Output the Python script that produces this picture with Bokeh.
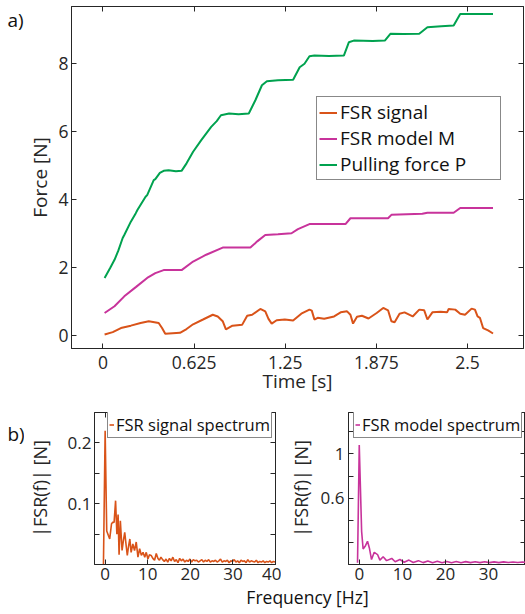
from bokeh.plotting import figure
from bokeh.models import (Range1d, LinearAxis, FixedTicker, Legend, LegendItem, Label,
                          CustomLabelingPolicy)
from bokeh.layouts import column, row
from bokeh.embed import file_html
from bokeh.resources import INLINE

FONT = "Open Sans"
AX = "#262626"
C_SIG = "#D95319"
C_MOD = "#C8339B"
C_PULL = "#00A24F"

# ---------------- data: panel a) ----------------
t_pull = [0.011, 0.05, 0.079, 0.105, 0.135, 0.146, 0.191, 0.225, 0.236, 0.292, 0.303, 0.348,
          0.359, 0.39, 0.416, 0.45, 0.50, 0.539, 0.573, 0.618, 0.674, 0.742, 0.78, 0.809,
          0.865, 0.93, 1.0, 1.045, 1.09, 1.124, 1.20, 1.304, 1.349, 1.382, 1.416, 1.45,
          1.55, 1.652, 1.686, 1.72, 1.85, 1.933, 1.971, 2.06, 2.169, 2.225, 2.32, 2.405,
          2.45, 2.55, 2.675]
f_pull = [1.70, 2.0, 2.23, 2.5, 2.87, 2.96, 3.35, 3.6, 3.69, 4.08, 4.13, 4.57,
          4.6, 4.78, 4.84, 4.86, 4.83, 4.84, 5.06, 5.40, 5.74, 6.13, 6.3, 6.47,
          6.52, 6.50, 6.52, 6.91, 7.35, 7.47, 7.50, 7.51, 7.88, 7.98, 8.20, 8.22,
          8.21, 8.22, 8.61, 8.66, 8.65, 8.66, 8.86, 8.85, 8.86, 9.05, 9.08, 9.10,
          9.44, 9.44, 9.44]

t_model = [0.011, 0.079, 0.146, 0.225, 0.303, 0.359, 0.416, 0.539, 0.618, 0.708, 0.821,
           1.011, 1.06, 1.113, 1.20, 1.293, 1.337, 1.416, 1.663, 1.697, 1.955, 1.978,
           2.19, 2.225, 2.405, 2.45, 2.675]
f_model = [0.67, 0.87, 1.16, 1.43, 1.70, 1.84, 1.93, 1.93, 2.18, 2.38, 2.59,
           2.59, 2.78, 2.96, 2.98, 3.01, 3.13, 3.28, 3.28, 3.45, 3.45, 3.55,
           3.58, 3.61, 3.61, 3.75, 3.75]

t_sig = [0.011, 0.067, 0.123, 0.191, 0.258, 0.314, 0.382, 0.405, 0.427, 0.528, 0.573,
         0.618, 0.686, 0.753, 0.787, 0.821, 0.843, 0.888, 0.955, 0.989, 1.023, 1.079,
         1.113, 1.135, 1.157, 1.191, 1.247, 1.304, 1.36, 1.416, 1.432, 1.45, 1.472,
         1.517, 1.585, 1.63, 1.674, 1.697, 1.715, 1.742, 1.776, 1.821, 1.877, 1.922,
         1.955, 1.978, 2.0, 2.034, 2.068, 2.124, 2.169, 2.203, 2.225, 2.259, 2.315,
         2.36, 2.371, 2.416, 2.45, 2.483, 2.528, 2.551, 2.569, 2.585, 2.607, 2.641, 2.675]
f_sig = [0.04, 0.11, 0.23, 0.30, 0.38, 0.43, 0.38, 0.23, 0.06, 0.09, 0.20,
         0.34, 0.48, 0.62, 0.57, 0.43, 0.19, 0.30, 0.33, 0.59, 0.62, 0.79,
         0.72, 0.50, 0.36, 0.46, 0.48, 0.45, 0.65, 0.77, 0.74, 0.48, 0.53,
         0.50, 0.57, 0.69, 0.72, 0.62, 0.36, 0.56, 0.59, 0.51, 0.67, 0.82,
         0.75, 0.43, 0.40, 0.65, 0.69, 0.57, 0.77, 0.75, 0.48, 0.69, 0.71,
         0.69, 0.79, 0.77, 0.65, 0.62, 0.80, 0.77, 0.57, 0.53, 0.23, 0.16, 0.07]

time_ticks = [0, 0.625, 1.25, 1.875, 2.5]
time_labels = ["0", "0.625", "1.25", "1.875", "2.5"]
force_ticks = [0, 2, 4, 6, 8]
force_labels = ["0", "2", "4", "6", "8"]

# ---------------- data: panel b) ----------------
fq_sig = [-0.4, 0.0, 0.37, 0.74, 1.07, 1.5, 1.84, 2.1, 2.45, 2.75, 3.04, 3.27, 3.57, 3.97,
          4.3, 4.6, 4.95, 5.2, 5.5, 5.8, 6.1, 6.5, 6.9, 7.3, 7.7, 8.1, 8.5, 8.9, 9.3,
          9.65, 10.05, 10.4, 10.8, 11.2, 11.6, 12.0, 12.4, 12.75, 13.1, 13.5, 13.9,
          14.3, 14.7, 15.1, 15.5, 15.9, 16.3, 16.7, 17.1, 17.5, 17.9, 18.3, 18.7, 19.1,
          19.5, 19.9, 20.3, 20.7, 21.1, 21.5, 21.9, 22.3, 22.7, 23.1, 23.5, 23.9, 24.3,
          24.7, 25.1, 25.5, 25.9, 26.3, 26.7, 27.1, 27.5, 27.9, 28.3, 28.7, 29.1, 29.5,
          29.9, 30.3, 30.7, 31.1, 31.5, 31.9, 32.3, 32.7, 33.1, 33.5, 33.9, 34.3, 34.7,
          35.1, 35.5, 35.9, 36.3, 36.7, 37.1, 37.5, 37.9, 38.3, 38.7, 39.1, 39.5, 39.9]
amp_sig = [0.0, 0.22, 0.055, 0.048, 0.042, 0.067, 0.07, 0.069, 0.105, 0.05, 0.082, 0.016,
           0.072, 0.023, 0.04, 0.053, 0.03, 0.015, 0.03, 0.042, 0.02, 0.034, 0.023, 0.037,
           0.012, 0.026, 0.015, 0.02, 0.012, 0.02, 0.009, 0.016, 0.015, 0.01, 0.007, 0.018,
           0.01, 0.007, 0.012, 0.008, 0.005, 0.009, 0.004, 0.010, 0.006, 0.012, 0.005,
           0.008, 0.003, 0.010, 0.006, 0.009, 0.004, 0.007, 0.005, 0.009, 0.004, 0.008,
           0.006, 0.007, 0.004, 0.006, 0.008, 0.004, 0.007, 0.005, 0.008, 0.004, 0.006,
           0.005, 0.007, 0.004, 0.006, 0.009, 0.004, 0.006, 0.005, 0.007, 0.003, 0.006,
           0.005, 0.008, 0.004, 0.006, 0.003, 0.007, 0.005, 0.006, 0.003, 0.008, 0.004,
           0.006, 0.005, 0.004, 0.007, 0.003, 0.005, 0.004, 0.006, 0.003, 0.005, 0.004,
           0.006, 0.003, 0.005, 0.004]

fq_mod = [-0.45, -0.05, 0.5, 0.85, 1.4, 1.87, 2.3, 2.8, 3.43, 3.8, 4.2, 4.75, 5.5, 6.3,
          7.5, 8.3, 9.4, 10.4, 11.5, 12.5, 13.7, 14.8, 15.9, 17.0, 18.1, 19.2, 20.3,
          21.4, 22.5, 23.6, 24.7, 25.8, 26.9, 28.0, 29.1, 30.2, 31.3, 32.4, 33.5, 34.6,
          35.7, 36.8, 37.9, 39.0, 40.0]
amp_mod = [0.015, 1.08, 0.30, 0.14, 0.17, 0.21, 0.15, 0.045, 0.11, 0.10, 0.09, 0.04, 0.07,
           0.035, 0.055, 0.025, 0.045, 0.02, 0.04, 0.018, 0.035, 0.017, 0.032, 0.016,
           0.030, 0.016, 0.028, 0.016, 0.027, 0.016, 0.026, 0.017, 0.025, 0.017, 0.025,
           0.017, 0.024, 0.017, 0.024, 0.018, 0.023, 0.018, 0.023, 0.018, 0.022]

freq_ticks = [0, 10, 20, 30, 40]
freq_labels = ["0", "10", "20", "30", "40"]
sig_yticks = [0.05, 0.1, 0.15, 0.2]
sig_ylabels = ["", "0.1", "", "0.2"]
mod_yticks = [0.2, 0.4, 0.6, 0.8, 1.0, 1.2]
mod_ylabels = ["", "", "0.6", "", "1", ""]

NO_LABELS = CustomLabelingPolicy(
    code="for (let i = 0; i < indices.size; i++) { indices.unset(i) } return indices")


def mirror_axis(ticks):
    return LinearAxis(ticker=FixedTicker(ticks=ticks), major_label_text_font_size="1px",
                      major_label_text_alpha=0, major_label_policy=NO_LABELS,
                      major_label_standoff=0, major_tick_in=5, major_tick_out=0,
                      minor_tick_in=0, minor_tick_out=0, axis_line_color=AX,
                      major_tick_line_color=AX)


def style(p, xticks, xlabels, yticks, ylabels, tick_fs, lab_fs):
    p.xgrid.visible = False
    p.ygrid.visible = False
    p.outline_line_color = AX
    p.outline_line_width = 1
    xa = p.xaxis[0]
    ya = p.yaxis[0]
    xa.ticker = FixedTicker(ticks=xticks)
    xa.major_label_overrides = {float(k): v for k, v in zip(xticks, xlabels)}
    ya.ticker = FixedTicker(ticks=yticks)
    ya.major_label_overrides = {float(k): v for k, v in zip(yticks, ylabels)}
    for ax in (xa, ya):
        ax.axis_line_color = AX
        ax.major_tick_line_color = AX
        ax.major_tick_in = 5
        ax.major_tick_out = 0
        ax.minor_tick_in = 0
        ax.minor_tick_out = 0
        ax.major_label_text_font = FONT
        ax.major_label_text_font_size = tick_fs
        ax.major_label_text_color = AX
        ax.axis_label_text_font = FONT
        ax.axis_label_text_font_size = lab_fs
        ax.axis_label_text_font_style = "normal"
        ax.axis_label_text_color = AX
    p.add_layout(mirror_axis(xticks), "above")
    p.add_layout(mirror_axis(yticks), "right")
    return xa, ya


def text_fig(w, h, txt, x, y, fs, align="left"):
    f = figure(width=w, height=h, x_range=Range1d(0, w), y_range=Range1d(0, h),
               output_backend="svg", toolbar_location=None,
               min_border_left=0, min_border_right=0, min_border_top=0, min_border_bottom=0)
    f.xaxis.visible = False
    f.yaxis.visible = False
    f.xgrid.visible = False
    f.ygrid.visible = False
    f.outline_line_color = None
    f.add_layout(Label(x=x, y=y, text=txt, text_font=FONT, text_font_size=fs,
                       text_color="#111111", text_align=align, text_baseline="middle"))
    return f


def small_legend(item, x, fs, lw=None):
    kw = dict(items=[item], location=(x, 126), margin=0, padding=1, spacing=0,
              glyph_width=5, glyph_height=19, label_height=19,
              label_standoff=2, label_text_font=FONT, label_text_font_size=fs,
              label_text_color="#111111", border_line_color="#111111", border_line_width=1,
              background_fill_color="white", background_fill_alpha=1.0)
    if lw is not None:
        kw["label_width"] = lw
    return Legend(**kw)


# ---------------- panel a) ----------------
H_A = 396
pa = figure(width=501, height=H_A, x_range=Range1d(-0.216, 2.884), y_range=Range1d(-0.37, 9.66),
            output_backend="svg", toolbar_location=None,
            min_border_left=39, min_border_right=2, min_border_top=6, min_border_bottom=47)
xa, ya = style(pa, time_ticks, time_labels, force_ticks, force_labels, "17.5px", "19px")
xa.axis_label = "Time [s]"
ya.axis_label = "Force [N]"
xa.major_label_standoff = 7
ya.major_label_standoff = 3
xa.axis_label_standoff = -4
ya.axis_label_standoff = 2

r_sig = pa.line(t_sig, f_sig, line_color=C_SIG, line_width=2)
r_mod = pa.line(t_model, f_model, line_color=C_MOD, line_width=2)
r_pull = pa.line(t_pull, f_pull, line_color=C_PULL, line_width=2)

leg = Legend(items=[LegendItem(label="FSR signal", renderers=[r_sig]),
                    LegendItem(label="FSR model M", renderers=[r_mod]),
                    LegendItem(label="Pulling force P", renderers=[r_pull])],
             location=(245, 168), margin=0, padding=2, spacing=0,
             glyph_width=18, glyph_height=21, label_height=21, label_width=158,
             label_standoff=3, label_text_font=FONT, label_text_font_size="19px",
             label_text_color="#111111", border_line_color="#111111", border_line_width=1,
             background_fill_color="white", background_fill_alpha=1.0)
pa.add_layout(leg)
fa = text_fig(24, H_A, "a)", 7, H_A - 16, "19px")

# ---------------- panel b) left ----------------
H_B = 188
pb1 = figure(width=257, height=H_B, x_range=Range1d(-2.5, 40), y_range=Range1d(0, 0.25),
             output_backend="svg", toolbar_location=None,
             min_border_left=69, min_border_right=6, min_border_top=16, min_border_bottom=20)
xb1, yb1 = style(pb1, freq_ticks, freq_labels, sig_yticks, sig_ylabels, "17px", "18px")
yb1.axis_label = "|FSR(f)| [N]"
xb1.major_label_standoff = 3
yb1.major_label_standoff = 3
yb1.axis_label_standoff = 13
rs = pb1.line(fq_sig, amp_sig, line_color=C_SIG, line_width=1.6)
pb1.add_layout(small_legend(LegendItem(label="FSR signal spectrum", renderers=[rs]), 13, "16.5px"))
fb = text_fig(24, H_B, "b)", 7, H_B - 26, "19px")

# ---------------- panel b) right ----------------
pb2 = figure(width=244, height=H_B, x_range=Range1d(-2.55, 38.6), y_range=Range1d(0, 1.375),
             output_backend="svg", toolbar_location=None,
             min_border_left=67, min_border_right=0, min_border_top=16, min_border_bottom=20)
xb2, yb2 = style(pb2, freq_ticks, freq_labels, mod_yticks, mod_ylabels, "17px", "18px")
yb2.axis_label = "|FSR(f)| [N]"
xb2.major_label_standoff = 3
yb2.major_label_standoff = 4
yb2.axis_label_standoff = 5
rm = pb2.line(fq_mod, amp_mod, line_color=C_MOD, line_width=1.6)
pb2.add_layout(small_legend(LegendItem(label="FSR model spectrum", renderers=[rm]), 5, "16.5px"))

# ---------------- shared frequency label ----------------
pf = text_fig(525, 30, "Frequency [Hz]", 307, 17.5, "17.5px", align="center")

layout = column(row(fa, pa, spacing=0), row(fb, pb1, pb2, spacing=0), pf, spacing=0)
open("out.html", "w").write(file_html(layout, INLINE))
